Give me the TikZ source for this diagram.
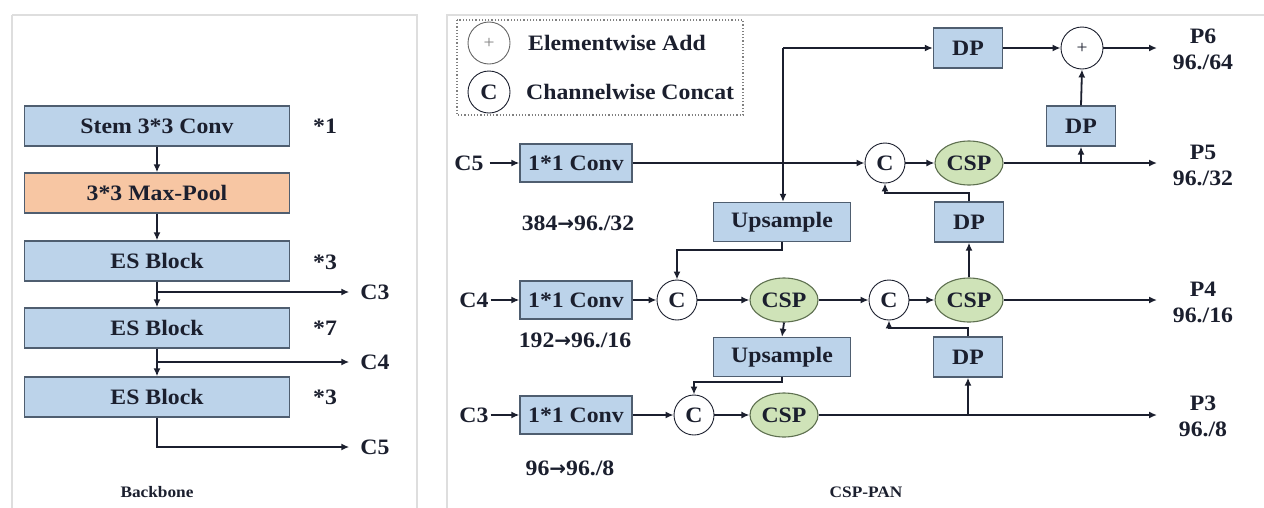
\documentclass[tikz,border=0pt]{standalone}
\usepackage{fontspec}
\setmainfont{Liberation Serif}[FakeStretch=1.08]
\newfontfamily\arrfont{DejaVu Sans}
\usetikzlibrary{arrows.meta,shapes.geometric}
\definecolor{boxblue}{HTML}{BCD3EA}
\definecolor{boxline}{HTML}{4F5E70}
\definecolor{poolorange}{HTML}{F7C6A3}
\definecolor{cspgreen}{HTML}{CFE3B8}
\definecolor{cspline}{HTML}{5E7050}
\definecolor{txt}{HTML}{1B1F2E}
\definecolor{panel}{HTML}{DEDEDE}
\newcommand{\rarr}{{\arrfont\bfseries\fontsize{20}{20}\selectfont →}}
\begin{document}
\begin{tikzpicture}[x=1pt,y=-1pt,
  font=\fontsize{22}{24}\selectfont\bfseries, text=txt,
  blk/.style={draw=boxline, fill=boxblue, line width=1.3pt, inner sep=0pt},
  bbox/.style={blk, minimum width=265pt, minimum height=40pt},
  conv/.style={blk, minimum width=112pt, minimum height=38pt},
  ups/.style={blk, minimum width=137pt, minimum height=39pt},
  dpbox/.style={blk, minimum width=69pt, minimum height=40pt},
  cat/.style={circle, draw=txt, fill=white, line width=0.9pt, minimum size=40pt, inner sep=0pt},
  csp/.style={ellipse, draw=cspline, fill=cspgreen, line width=1.1pt, minimum width=68pt, minimum height=44pt, inner sep=0pt},
  lbl/.style={inner sep=0pt},
  arr/.style={draw=txt, line width=1.8pt, -{Latex[length=8pt,width=7pt]}},
  ln/.style={draw=txt, line width=1.8pt}]
\useasboundingbox (0,0) rectangle (1264,507);
\fill[white] (0,0) rectangle (1264,507);
% panels
\draw[panel, line width=1.5pt] (12,15) -- (417,15) -- (417,520);
\draw[panel, line width=1.5pt] (12,520) -- (12,15);
\draw[panel, line width=1.5pt] (447,520) -- (447,15) -- (1270,15);

% ---------------- Backbone ----------------
\node[bbox] (stem) at (157,126) {Stem 3*3 Conv};
\node[bbox, fill=poolorange] (pool) at (157,193) {3*3 Max-Pool};
\node[bbox] (es1) at (157,261) {ES Block};
\node[bbox] (es2) at (157,328) {ES Block};
\node[bbox] (es3) at (157,397) {ES Block};
\node[lbl] (m1) at (325,126) {*1};
\node[lbl] (m2) at (325,262) {*3};
\node[lbl] (m3) at (325,328) {*7};
\node[lbl] (m4) at (325,397) {*3};
\draw[arr] (stem.south) -- (pool.north);
\draw[arr] (pool.south) -- (es1.north);
\draw[arr] (es1.south) -- (es2.north);
\draw[arr] (es2.south) -- (es3.north);
\node[lbl] (bc3) at (375,292) {C3};
\node[lbl] (bc4) at (375,362) {C4};
\node[lbl] (bc5) at (375,447) {C5};
\draw[arr] (es1.south |- bc3) -- ([xshift=-11pt]bc3.west);
\draw[arr] (es2.south |- bc4) -- ([xshift=-11pt]bc4.west);
\draw[arr] (es3.south) |- ([xshift=-11pt]bc5.west);
\node[lbl, font=\fontsize{16}{18}\selectfont\bfseries] (bbt) at (157,492) {Backbone};

% ---------------- Legend ----------------
\draw[gray, dotted, line width=1.2pt] (457,20) rectangle (743,115);
\node[cat, minimum size=42pt, draw=gray!80!black] (lgadd) at (489,43) {\textcolor{gray}{\fontsize{18}{18}\selectfont\mdseries +}};
\node[cat, minimum size=42pt] (lgcat) at (489,92) {C};
\node[lbl, anchor=west] (lgt1) at (528,43) {Elementwise Add};
\node[lbl, anchor=west] (lgt2) at (526,92) {Channelwise Concat};

% ---------------- CSP-PAN ----------------
\node[lbl] (c5) at (469,163) {C5};
\node[lbl] (c4) at (474,300) {C4};
\node[lbl] (c3) at (474,415) {C3};
\node[conv] (conv5) at (576,163) {1*1 Conv};
\node[conv] (conv4) at (576,300) {1*1 Conv};
\node[conv] (conv3) at (576,415) {1*1 Conv};
\node[lbl] (d5) at (578,223) {384\rarr96./32};
\node[lbl] (d4) at (575,340) {192\rarr96./16};
\node[lbl] (d3) at (570,468) {96\rarr96./8};

\node[ups] (up5) at (782,222) {Upsample};
\node[ups] (up4) at (782,357) {Upsample};
\node[dpbox] (dptop) at (968,48) {DP};
\node[dpbox] (dpr) at (1081,126) {DP};
\node[dpbox] (dp5) at (969,222) {DP};
\node[dpbox] (dp4) at (968,357) {DP};

\node[cat, minimum size=42pt] (add) at (1082,48) {\fontsize{18}{18}\selectfont\mdseries +};
\node[cat] (cat5) at (885,163) {C};
\node[cat] (cat4a) at (677,300) {C};
\node[cat] (cat4b) at (889,300) {C};
\node[cat] (cat3) at (694,415) {C};

\node[csp] (csp5) at (969,163) {CSP};
\node[csp] (csp4a) at (784,300) {CSP};
\node[csp] (csp4b) at (969,300) {CSP};
\node[csp] (csp3) at (784,415) {CSP};

\node[lbl, align=center] (p6) at (1203,49) {P6\\[2pt]96./64};
\node[lbl, align=center] (p5) at (1203,165) {P5\\[2pt]96./32};
\node[lbl, align=center] (p4) at (1203,302) {P4\\[2pt]96./16};
\node[lbl, align=center] (p3) at (1203,416) {P3\\[2pt]96./8};

\coordinate (e6) at (1157,48);
\coordinate (e5) at (1157,163);
\coordinate (e4) at (1157,300);
\coordinate (e3) at (1157,415);
\coordinate (tl) at (783,48);
\coordinate (j5) at (1081,163);
\coordinate (j3) at (968,415);

% C5 row
\draw[arr] ([xshift=6pt]c5.east) -- (conv5.west);
\draw[arr] (conv5.east) -- (cat5.west);
\draw[arr] (cat5.east) -- (csp5.west);
\draw[ln] (csp5.east) -- (j5);
\draw[arr] (j5) -- (e5);
\draw[arr] (j5) -- (dpr.south);
\draw[arr] (dpr.north) -- (add.south);
% top row
\draw[arr] (tl) -- (dptop.west);
\draw[arr] (tl) -- (tl |- up5.north);
\draw[arr] (dptop.east) -- (add.west);
\draw[arr] (add.east) -- (e6);
% C4 row
\draw[arr] ([xshift=2pt]c4.east) -- (conv4.west);
\draw[arr] (up5.south) -- ++(0,8) -| (cat4a.north);
\draw[arr] (conv4.east) -- (cat4a.west);
\draw[arr] (cat4a.east) -- (csp4a.west);
\draw[arr] (csp4a.east) -- (cat4b.west);
\draw[arr] (cat4b.east) -- (csp4b.west);
\draw[arr] (csp4b.east) -- (e4);
\draw[arr] (csp4b.north) -- (dp5.south);
\draw[arr] (dp5.north) -- ++(0,-8) -| (cat5.south);
% C3 row
\draw[arr] (csp4a.south) -- (up4.north);
\draw[arr] (up4.south) -- ++(0,5) -| (cat3.north);
\draw[arr] ([xshift=2pt]c3.east) -- (conv3.west);
\draw[arr] (conv3.east) -- (cat3.west);
\draw[arr] (cat3.east) -- (csp3.west);
\draw[ln] (csp3.east) -- (j3);
\draw[arr] (j3) -- (e3);
\draw[arr] (j3) -- (dp4.south);
\draw[arr] (dp4.north) -- ++(0,-8) -| (cat4b.south);

\node[lbl, font=\fontsize{16}{18}\selectfont\bfseries] (pant) at (866,492) {CSP-PAN};
\end{tikzpicture}
\end{document}
